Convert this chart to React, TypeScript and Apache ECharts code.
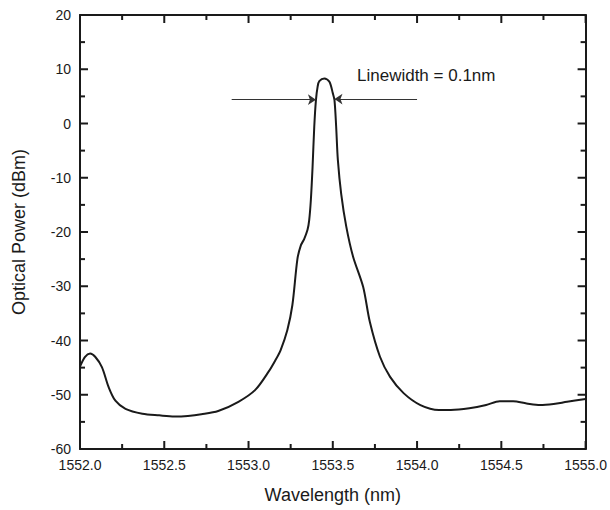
import React, { useEffect, useRef } from "react";
import * as echarts from "echarts";

const wavelength = [
  1552.0, 1552.03, 1552.06, 1552.09, 1552.13, 1552.17, 1552.21, 1552.27, 1552.37, 1552.47,
  1552.56, 1552.64, 1552.72, 1552.82, 1552.94, 1553.04, 1553.12, 1553.16, 1553.19, 1553.23,
  1553.26, 1553.29, 1553.31, 1553.33, 1553.35, 1553.36, 1553.37, 1553.38, 1553.39, 1553.4,
  1553.41, 1553.42, 1553.45, 1553.48, 1553.5, 1553.51, 1553.52, 1553.53, 1553.55, 1553.58,
  1553.62, 1553.68, 1553.72, 1553.78, 1553.84, 1553.92, 1554.02, 1554.13,
  1554.2, 1554.31, 1554.41, 1554.49, 1554.57, 1554.65, 1554.73, 1554.81, 1554.89, 1555.0,
];
const powerDbm = [
  -44.8, -43.0, -42.4, -43.0, -44.9, -48.6, -51.1, -52.6, -53.5, -53.8,
  -54.0, -53.9, -53.6, -53.0, -51.3, -49.1, -45.7, -43.6, -41.8, -38.1,
  -33.5, -25.0, -22.5, -21.3, -19.6, -17.8, -14.0, -8.0, -0.6, 4.3,
  6.8, 7.8, 8.3, 7.7, 5.6, 4.3, -0.6, -6.7, -13.0, -19.0,
  -24.5, -30.1, -36.6, -43.0, -46.7, -49.7, -51.9, -52.8,
  -52.8, -52.5, -51.9, -51.2, -51.2, -51.6, -51.9, -51.7, -51.3, -50.8,
];

const xRange = [1552, 1555];
const yRange = [-60, 20];
const xMajorTicks = [1552.0, 1552.5, 1553.0, 1553.5, 1554.0, 1554.5, 1555.0];
const xMinorTicks = [1552.25, 1552.75, 1553.25, 1553.75, 1554.25, 1554.75];
const yMajorTicks = [-60, -50, -40, -30, -20, -10, 0, 10, 20];
const yMinorTicks = [-55, -45, -35, -25, -15, -5, 5, 15];

const xTitle = "Wavelength (nm)";
const yTitle = "Optical Power (dBm)";
const annotationText = "Linewidth = 0.1nm";
// arrows: [startX, endX, y] in data coordinates
const leftArrow = [1552.9, 1553.4, 4.4];
const rightArrow = [1554.0, 1553.51, 4.5];

const FONT = "'Liberation Sans', Arial, sans-serif";
const INK = "#1a1a1a";
const MAJOR_LEN = 8;
const MINOR_LEN = 5;

export default function App() {
  const ref = useRef<HTMLDivElement>(null);
  useEffect(() => {
    if (!ref.current) return;
    const chart = echarts.init(ref.current, undefined, { renderer: "svg" });
    const data = wavelength.map((w, i) => [w, powerDbm[i]]);
    const line = { show: true, onZero: false, lineStyle: { color: INK, width: 2 } };

    // tick rows: [orientation (0 = x axis, 1 = y axis), value, major?]
    const tickRows: number[][] = [
      ...xMajorTicks.map((v) => [0, v, 1]),
      ...xMinorTicks.map((v) => [0, v, 0]),
      ...yMajorTicks.map((v) => [1, v, 1]),
      ...yMinorTicks.map((v) => [1, v, 0]),
    ];
    const tickStyle = { stroke: INK, lineWidth: 2 };

    chart.setOption({
      animation: false,
      backgroundColor: "#ffffff",
      textStyle: { fontFamily: FONT },
      grid: { left: 80, right: 24, top: 15, bottom: 61 },
      xAxis: [
        {
          type: "value",
          min: xRange[0],
          max: xRange[1],
          interval: 0.5,
          position: "bottom",
          name: xTitle,
          nameLocation: "middle",
          nameGap: 37,
          nameTextStyle: { fontSize: 18, color: INK, fontFamily: FONT },
          axisLabel: {
            fontSize: 14,
            color: INK,
            margin: 9,
            fontFamily: FONT,
            formatter: (v: number) => v.toFixed(1),
          },
          axisLine: line,
          axisTick: { show: false },
          splitLine: { show: false },
        },
        {
          type: "value",
          min: xRange[0],
          max: xRange[1],
          interval: 0.5,
          position: "top",
          axisLabel: { show: false },
          axisLine: line,
          axisTick: { show: false },
          splitLine: { show: false },
        },
      ],
      yAxis: [
        {
          type: "value",
          min: yRange[0],
          max: yRange[1],
          interval: 10,
          position: "left",
          name: yTitle,
          nameLocation: "middle",
          nameGap: 52,
          nameTextStyle: { fontSize: 18, color: INK, fontFamily: FONT },
          axisLabel: { fontSize: 14, color: INK, margin: 9, fontFamily: FONT },
          axisLine: line,
          axisTick: { show: false },
          splitLine: { show: false },
        },
        {
          type: "value",
          min: yRange[0],
          max: yRange[1],
          interval: 10,
          position: "right",
          axisLabel: { show: false },
          axisLine: line,
          axisTick: { show: false },
          splitLine: { show: false },
        },
      ],
      series: [
        {
          type: "custom",
          xAxisIndex: 0,
          yAxisIndex: 0,
          silent: true,
          clip: false,
          z: 5,
          data: tickRows,
          encode: { x: 1, y: 1 },
          renderItem: (_params: any, api: any) => {
            const orient = api.value(0);
            const v = api.value(1);
            const len = api.value(2) ? MAJOR_LEN : MINOR_LEN;
            if (orient === 0) {
              const b = api.coord([v, yRange[0]]);
              const t = api.coord([v, yRange[1]]);
              return {
                type: "group",
                children: [
                  { type: "line", shape: { x1: b[0], y1: b[1], x2: b[0], y2: b[1] - len }, style: tickStyle },
                  { type: "line", shape: { x1: t[0], y1: t[1], x2: t[0], y2: t[1] + len }, style: tickStyle },
                ],
              };
            }
            const l = api.coord([xRange[0], v]);
            const r = api.coord([xRange[1], v]);
            return {
              type: "group",
              children: [
                { type: "line", shape: { x1: l[0], y1: l[1], x2: l[0] + len, y2: l[1] }, style: tickStyle },
                { type: "line", shape: { x1: r[0], y1: r[1], x2: r[0] - len, y2: r[1] }, style: tickStyle },
              ],
            };
          },
        },
        {
          type: "line",
          xAxisIndex: 0,
          yAxisIndex: 0,
          data,
          smooth: 0.3,
          showSymbol: false,
          symbol: "none",
          lineStyle: { color: INK, width: 2 },
          markLine: {
            silent: true,
            symbol: ["none", "arrow"],
            symbolSize: 8,
            label: { show: false },
            lineStyle: { color: "#333", width: 1, type: "solid" },
            data: [
              [
                { coord: [leftArrow[0], leftArrow[2]] },
                { coord: [leftArrow[1], leftArrow[2]] },
              ],
              [
                { coord: [rightArrow[0], rightArrow[2]] },
                { coord: [rightArrow[1], rightArrow[2]] },
              ],
            ],
          },
        },
      ],
      graphic: [
        {
          type: "text",
          left: 357,
          top: 67,
          style: { text: annotationText, fontSize: 17, fill: INK, fontFamily: FONT },
        },
      ],
    });
    return () => chart.dispose();
  }, []);
  return (
    <div
      ref={ref}
      style={{ position: "fixed", left: 0, top: 0, width: 610, height: 510, background: "#fff" }}
    />
  );
}
